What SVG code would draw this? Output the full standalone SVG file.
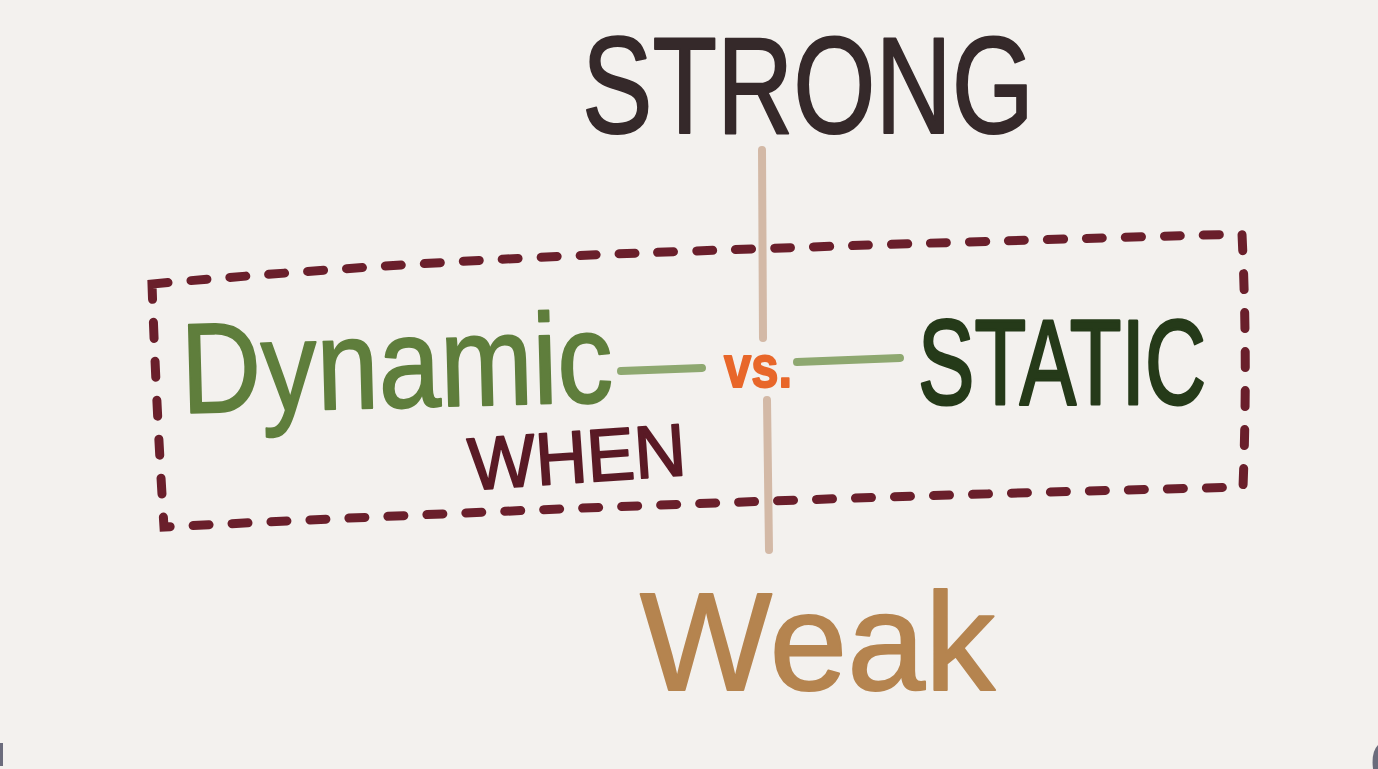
<svg xmlns="http://www.w3.org/2000/svg" width="1378" height="769" viewBox="0 0 1378 769">
<style>
.t{font-family:"Liberation Sans","DejaVu Sans",sans-serif;stroke-linejoin:round;stroke-linecap:round}
.ax{stroke:#d3b9a6;stroke-width:8;stroke-linecap:round;fill:none}
.gl{stroke:#8ea870;stroke-width:8;stroke-linecap:round;fill:none}
</style>
<rect width="1378" height="769" fill="#f3f1ee"/>
<rect x="0" y="743" width="3" height="23" fill="#6b6c7c"/>
<path d="M1378,745 Q1371,752 1373,769 L1378,769 Z" fill="#6b6c7c"/>
<g id="connectors">
<path class="ax" d="M762,150 L763,338"/>
<path class="ax" d="M767,400 L769,550"/>
<path class="gl" d="M621,371 L702,368"/>
<path class="gl" d="M797,362 L900,358"/>
<path d="M152,284 Q400,262 640,253 T1242,234 Q1248,360 1243,487 Q700,500 164,527 Q156,400 152,284 Z" fill="none" stroke="#6a1f2b" stroke-width="9" stroke-linecap="round" stroke-dasharray="16 23"/>
</g>
<g id="strong"><text class="t" x="582" y="133" font-size="138" textLength="452" lengthAdjust="spacingAndGlyphs" fill="#35292a" stroke="#35292a" stroke-width="2">STRONG</text></g>
<g id="dynamic"><text class="t" x="182" y="413" font-size="128" textLength="432" lengthAdjust="spacingAndGlyphs" fill="#5f7e3c" stroke="#5f7e3c" stroke-width="2" transform="rotate(-1.5 182 413)">Dynamic</text></g>
<g id="vs"><text class="t" x="724" y="387" font-size="60" font-weight="bold" textLength="68" lengthAdjust="spacingAndGlyphs" fill="#e8672a" stroke="#e8672a" stroke-width="2">vs.</text></g>
<g id="static"><text class="t" x="918" y="404" font-size="120" textLength="288" lengthAdjust="spacingAndGlyphs" fill="#253a19" stroke="#253a19" stroke-width="3">STATIC</text></g>
<g id="when"><text class="t" x="470" y="490" font-size="74" textLength="218" lengthAdjust="spacingAndGlyphs" fill="#5a1a25" stroke="#5a1a25" stroke-width="2" transform="rotate(-4 470 490)">WHEN</text></g>
<g id="weak"><text class="t" x="640" y="690" font-size="140" textLength="355" lengthAdjust="spacingAndGlyphs" fill="#b5844f" stroke="#b5844f" stroke-width="2">Weak</text></g>
</svg>
